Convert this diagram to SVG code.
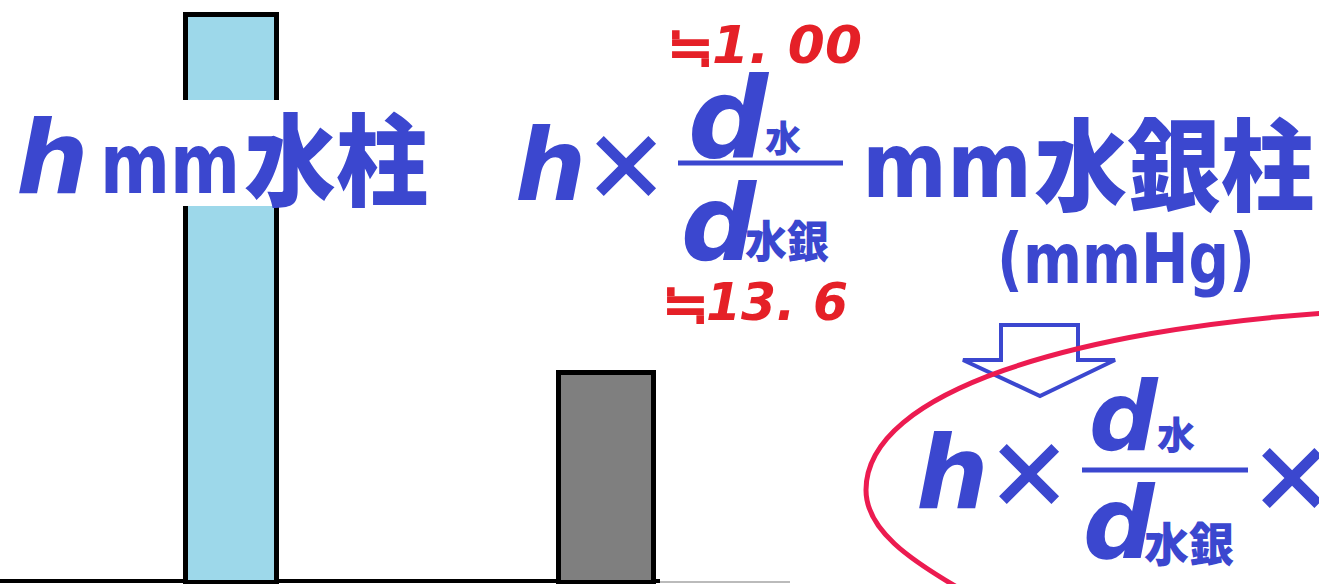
<svg xmlns="http://www.w3.org/2000/svg" width="1319" height="584" viewBox="0 0 1319 584">
<style>
.b{fill:#3b47cf}
.r{fill:#e52027}
.it{font-family:"DejaVu Sans","Liberation Sans",sans-serif;font-weight:bold;font-style:oblique}
.lat{font-family:"DejaVu Sans","Liberation Sans",sans-serif;font-weight:bold}
.cjk{font-family:"Noto Sans CJK JP","Noto Sans CJK SC",sans-serif;font-weight:900;font-style:normal}
.bar{stroke:#000;stroke-width:5}
.fl{stroke:#3b47cf;stroke-width:5}
</style>
<rect width="1319" height="584" fill="#fff"/>
<g id="baseline"><line x1="0" y1="581" x2="660" y2="581" stroke="#000" stroke-width="4"/><line x1="660" y1="582" x2="790" y2="582" stroke="#bbb" stroke-width="2"/></g>
<g id="water-column"><rect class="bar" x="185.5" y="14.5" width="91" height="568" fill="#9dd8ea"/></g>
<g id="mercury-column"><rect class="bar" x="558.5" y="372.5" width="95" height="210" fill="#7f7f7f"/></g>
<g id="label-water">
<rect x="5" y="100" width="430" height="106" fill="#fff"/>
<text class="b it" x="16" y="193" font-size="102">h</text>
<text class="b lat" x="100" y="193" font-size="84" textLength="140" lengthAdjust="spacingAndGlyphs">mm</text>
<text class="b cjk" x="244" y="198" font-size="100" textLength="184" lengthAdjust="spacingAndGlyphs">水柱</text>
</g>
<g id="label-mercury">
<text class="b it" x="515" y="200" font-size="100">h</text>
<text class="b cjk" x="626" y="200" font-size="90" text-anchor="middle">×</text>
<line class="fl" x1="678" y1="163" x2="843" y2="163"/>
<text class="b it" x="688" y="157" font-size="112">d</text>
<text class="b cjk" x="765" y="152" font-size="36">水</text>
<text class="b it" x="681" y="260" font-size="105">d</text>
<text class="b cjk" x="745" y="258" font-size="44" textLength="84" lengthAdjust="spacingAndGlyphs">水銀</text>
<text class="b lat" x="862" y="197" font-size="91" textLength="170" lengthAdjust="spacingAndGlyphs">mm</text>
<text class="b cjk" x="1034" y="203" font-size="100" textLength="280" lengthAdjust="spacingAndGlyphs">水銀柱</text>
<text class="b lat" x="997" y="283" font-size="70" textLength="258" lengthAdjust="spacingAndGlyphs">(mmHg)</text>
</g>
<g id="approx-values">
<text class="r cjk" x="690" y="66" font-size="56" font-weight="700" text-anchor="middle">≒</text>
<text class="r it" x="712" y="63" font-size="52" textLength="150" lengthAdjust="spacingAndGlyphs">1. 00</text>
<text class="r cjk" x="685" y="323" font-size="56" font-weight="700" text-anchor="middle">≒</text>
<text class="r it" x="706" y="320" font-size="52" textLength="142" lengthAdjust="spacingAndGlyphs">13. 6</text>
</g>
<g id="connectors">
<polygon points="1001,325 1078,325 1078,360 1115,360 1040,396 963,360 1001,360" fill="#fff" stroke="#3b47cf" stroke-width="4" stroke-linejoin="miter"/>
</g>
<g id="result-formula">
<text class="b it" x="916" y="508" font-size="102">h</text>
<text class="b cjk" x="1029" y="508" font-size="90" text-anchor="middle">×</text>
<line class="fl" x1="1082" y1="470" x2="1248" y2="470"/>
<text class="b it" x="1089" y="450" font-size="96">d</text>
<text class="b cjk" x="1157" y="449" font-size="38">水</text>
<text class="b it" x="1083" y="558" font-size="100">d</text>
<text class="b cjk" x="1144" y="561" font-size="46" textLength="90" lengthAdjust="spacingAndGlyphs">水銀</text>
<text class="b cjk" x="1292" y="512" font-size="90" text-anchor="middle">×</text>
</g>
<g id="highlight">
<path d="M1325,313 C1080,330 866,390 866,490 C866,530 910,560 962,590" fill="none" stroke="#ec1b50" stroke-width="5"/>
</g>
</svg>
